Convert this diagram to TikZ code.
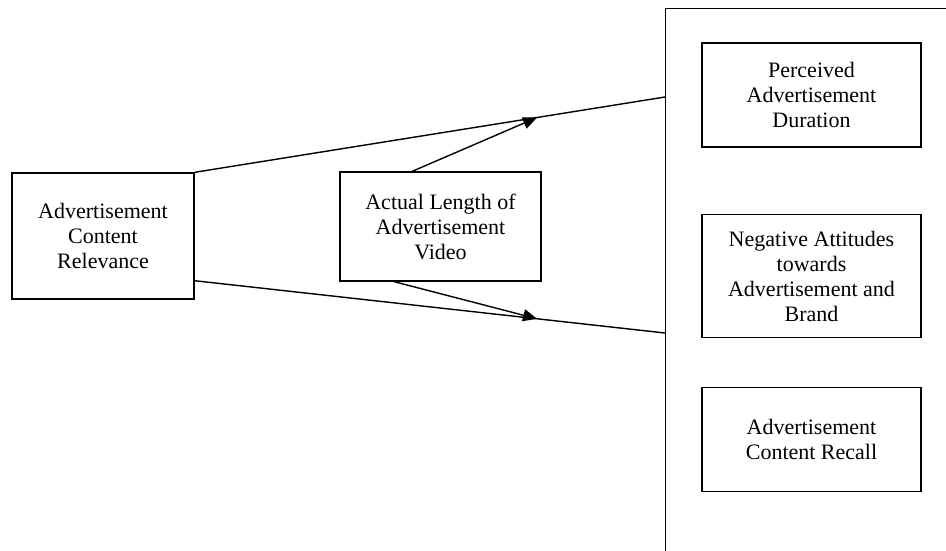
\documentclass[tikz,border=0pt]{standalone}
\usepackage{fontspec}
\setmainfont{Liberation Serif}
\usetikzlibrary{arrows.meta,calc}
\begin{document}
\begin{tikzpicture}[x=1pt,y=-1pt,
  every node/.style={font=\fontsize{22}{25}\selectfont},
  box/.style={draw,line width=1.4pt,align=center,inner sep=0pt},
  link/.style={line width=1.4pt},
  tipped/.style={line width=1.4pt,-{Triangle[length=14pt,width=12pt]}}]
\useasboundingbox (0,0) rectangle (946,550);
\clip (0,0) rectangle (946,550);
% predictor and moderator
\node[box,minimum width=182pt,minimum height=126pt] (rel) at (103,236)
  {Advertisement\\Content\\Relevance};
\node[box,minimum width=201pt,minimum height=109pt] (len) at (440.5,226.5)
  {Actual Length of\\Advertisement\\Video};
% outcome panel (runs past the page edges)
\node[box,minimum width=320pt,minimum height=580pt,anchor=north west] (panel) at (665,8) {};
\node[box,minimum width=219pt,minimum height=104pt] (dur) at (811.5,95)
  {Perceived\\Advertisement\\Duration};
\node[box,minimum width=219pt,minimum height=123pt] (att) at (811.5,276)
  {Negative Attitudes\\towards\\Advertisement and\\Brand};
\node[box,minimum width=219pt,minimum height=104pt] (rec) at (811.5,439.5)
  {Advertisement\\Content Recall};
% connector end points
\coordinate (upA) at (rel.north east);
\coordinate (upB) at (panel.west |- 0,97);
\coordinate (loA) at ($(rel.south east)+(0,-19)$);
\coordinate (loB) at (panel.west |- 0,333);
\draw[link] (upA) -- (upB);
\draw[link] (loA) -- (loB);
\coordinate (upHit) at ($(upA)!0.728!(upB)$);
\coordinate (loHit) at ($(loA)!0.728!(loB)$);
\draw[tipped] ($(len.north west)+(73,0)$) -- (upHit);
\draw[tipped] ($(len.south west)+(55,0)$) -- (loHit);
\end{tikzpicture}
\end{document}
